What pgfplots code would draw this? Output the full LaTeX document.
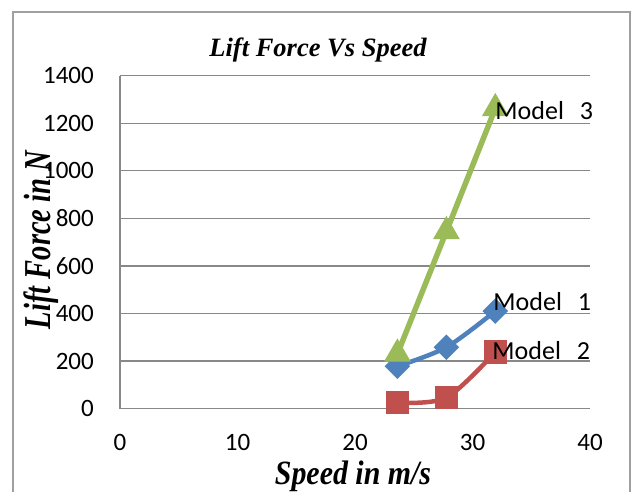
\documentclass[border=0pt]{standalone}
\usepackage{fontspec}
\setmainfont{Liberation Serif}
\newfontfamily\calibri{Carlito}
\newfontfamily\xlabfont[FakeStretch=0.88]{Liberation Serif}
\newfontfamily\ylabfont[FakeStretch=0.75]{Liberation Serif}
\usepackage{pgfplots}
\pgfplotsset{compat=1.18}
\definecolor{mone}{HTML}{4F81BD}
\definecolor{mtwo}{HTML}{C0504D}
\definecolor{mthree}{HTML}{9BBB59}
\definecolor{gridc}{HTML}{888888}
\definecolor{framec}{HTML}{A0A0A0}
\begin{document}
\begin{tikzpicture}[x=1pt,y=1pt]
\useasboundingbox (0,0) rectangle (637,491);
\draw[color=framec, line width=1.5pt] (13,-5) -- (13,479) -- (630,479) -- (630,-5);
\begin{axis}[
  at={(120pt,82.4pt)}, anchor=south west,
  scale only axis, width=470pt, height=333pt,
  xmin=0, xmax=40, ymin=0, ymax=1400,
  xtick={0,10,20,30,40}, ytick={0,200,400,600,800,1000,1200,1400},
  ymajorgrids, major grid style={gridc, line width=1.3pt},
  axis lines*=left, axis line style={gridc, line width=1.3pt},
  major tick length=0pt,
  tick label style={font=\calibri\fontsize{25}{30}\selectfont, inner sep=0pt},
  /pgf/number format/assume math mode=true,
  /pgf/number format/set thousands separator={},
  yticklabel style={xshift=-26pt},
  xticklabel style={yshift=-25.4pt},
  clip=false,
]
\addplot[mone, line width=4.5pt, smooth, tension=0.5, mark=square*, mark size=6.8pt, mark options={rotate=45, solid}]
  coordinates {(23.61,178) (27.78,258) (31.94,410)};
\addplot[mtwo, line width=4.5pt, smooth, tension=0.5, mark=square*, mark size=9.3pt, mark options={solid}]
  coordinates {(23.61,25) (27.78,46) (31.94,238)};
\addplot[mthree, line width=5.5pt, mark=triangle*, mark size=10pt, mark options={solid}]
  coordinates {(23.61,230) (27.78,745) (31.94,1262)};
\coordinate (pthree) at (axis cs:31.94,1262);
\coordinate (pone) at (axis cs:31.94,410);
\coordinate (ptwo) at (axis cs:31.94,238);
\end{axis}
\node[anchor=west, inner sep=0pt, font=\calibri\fontsize{26}{30}\selectfont, yshift=-2pt] at (pthree) {Model\hspace{16pt}3};
\node[anchor=west, inner sep=0pt, font=\calibri\fontsize{26}{30}\selectfont, xshift=-2pt, yshift=10pt] at (pone) {Model\hspace{16pt}1};
\node[anchor=west, inner sep=0pt, font=\calibri\fontsize{26}{30}\selectfont, xshift=-3pt, yshift=1pt] at (ptwo) {Model\hspace{16pt}2};
\node[anchor=base, font=\fontsize{26.5}{30}\selectfont\bfseries\itshape] at (318,434) {Lift Force Vs Speed};
\node[anchor=base, inner sep=0pt, font=\xlabfont\fontsize{34}{38}\selectfont\bfseries\itshape] at (353,7) {Speed in m/s};
\node[anchor=base, rotate=90, font=\ylabfont\fontsize{38}{44}\selectfont\bfseries\itshape] at (50,251) {Lift Force in N};
\end{tikzpicture}
\end{document}
